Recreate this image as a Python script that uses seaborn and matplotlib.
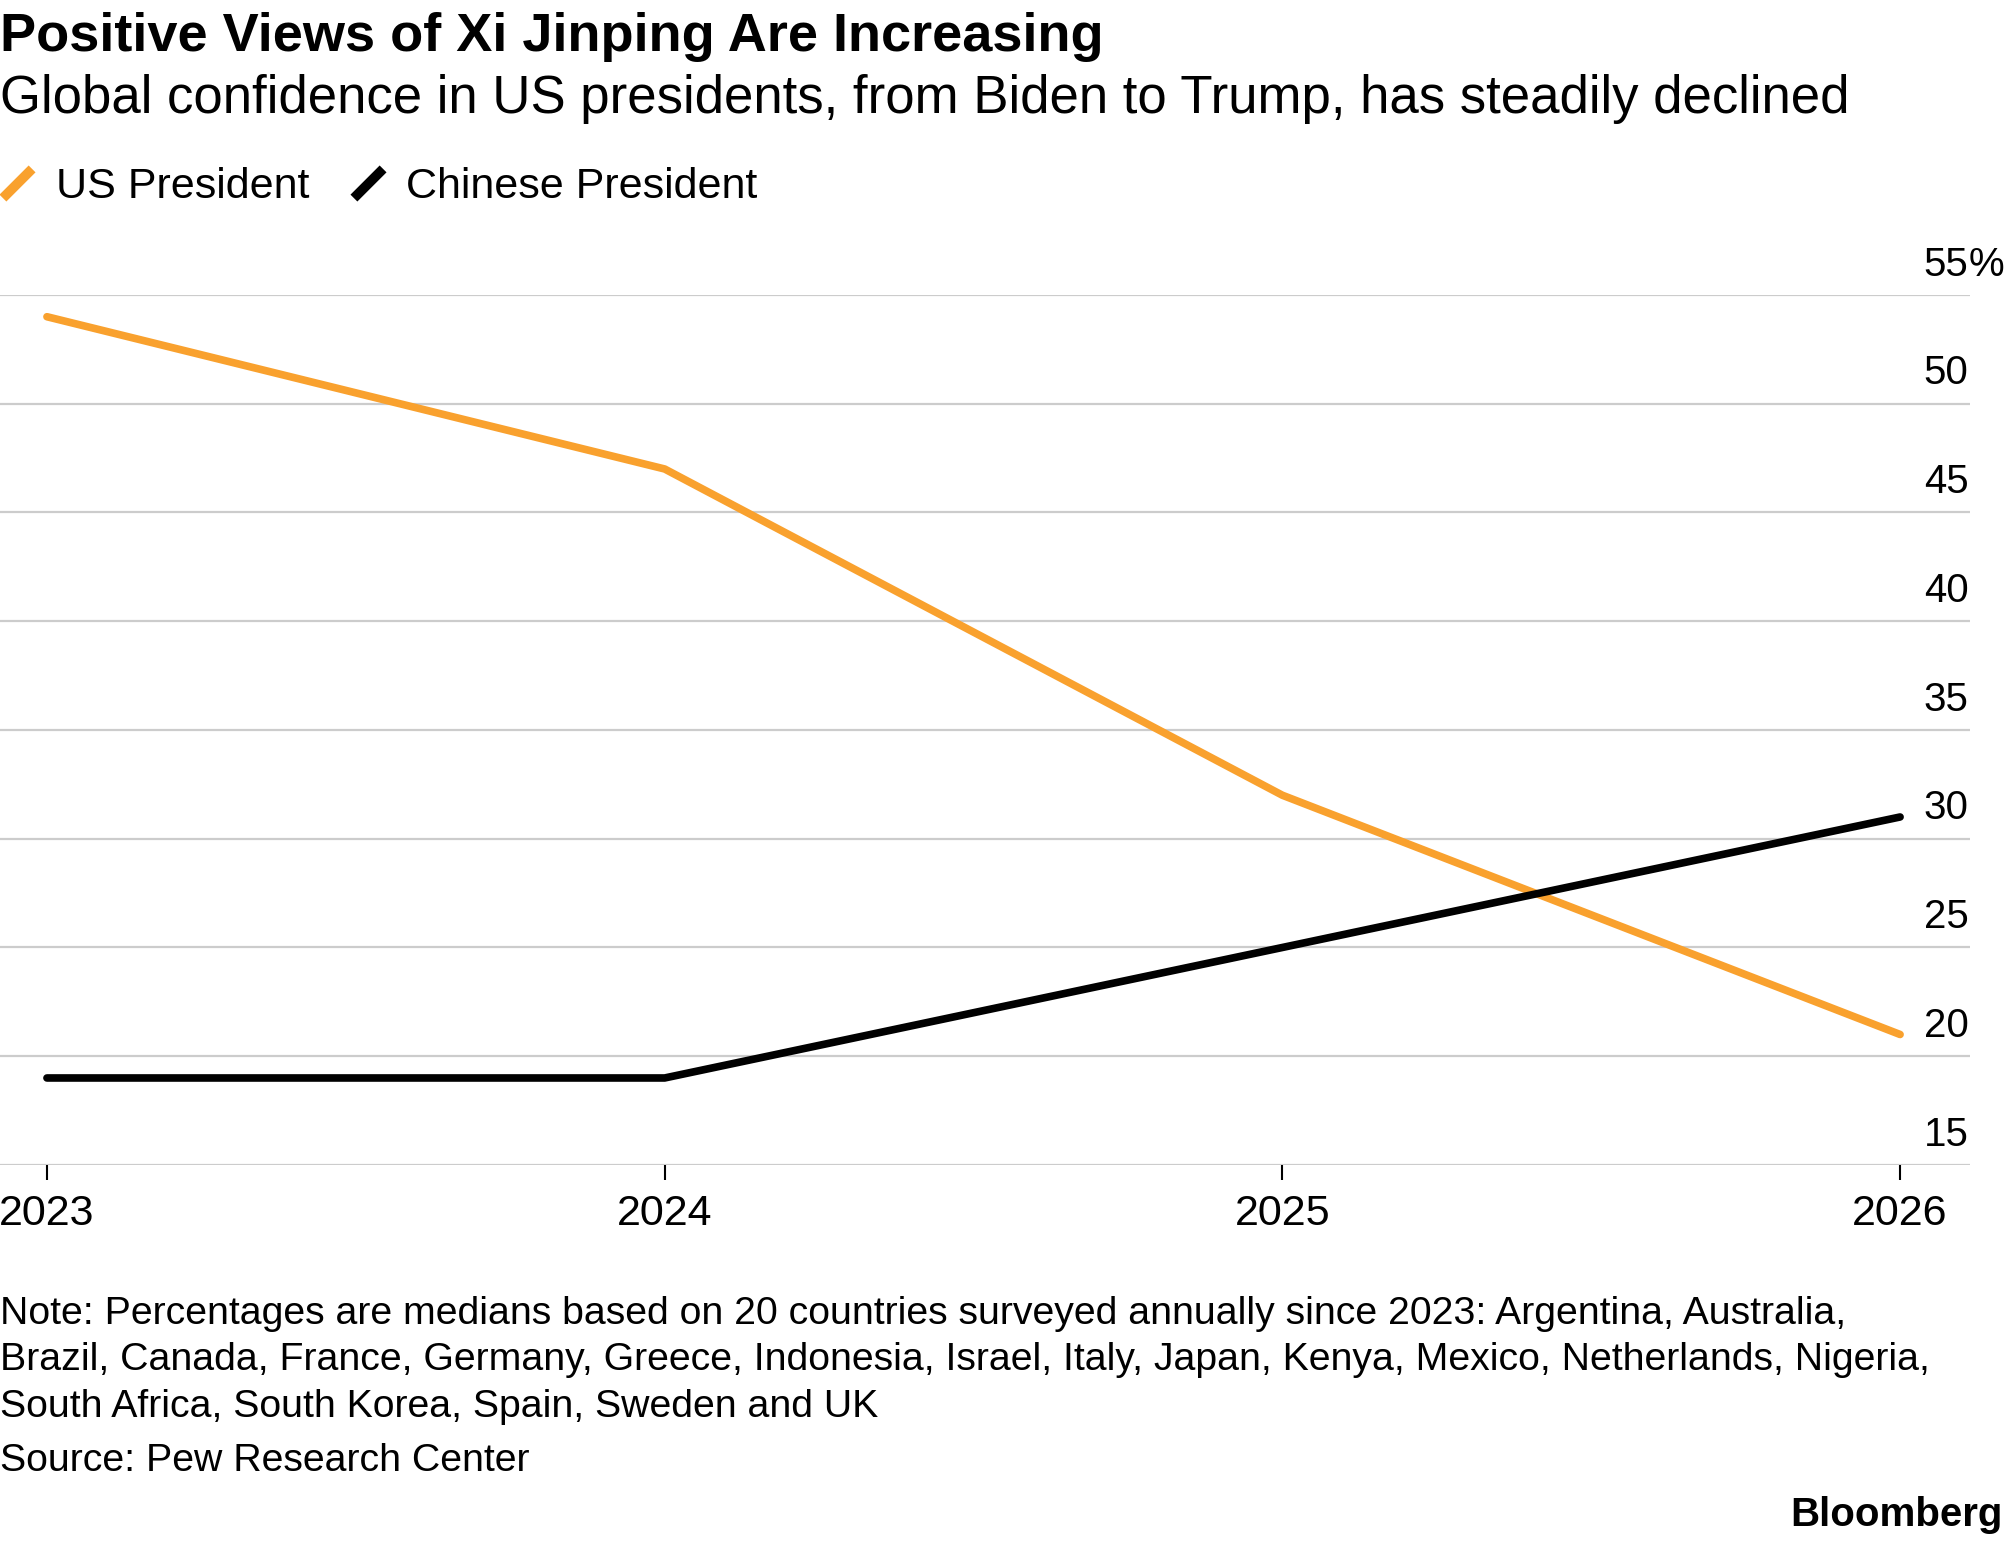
import pandas as pd
import matplotlib
matplotlib.use("Agg")
import matplotlib.pyplot as plt
import matplotlib.transforms as mtransforms
from matplotlib.lines import Line2D
from matplotlib.path import Path
import seaborn as sns

# Data
years = [2023, 2024, 2025, 2026]
us_president = [54, 47, 32, 21]
chinese_president = [19, 19, 25, 31]
series_names = ["US President", "Chinese President"]
y_ticks = [15, 20, 25, 30, 35, 40, 45, 50, 55]

df = pd.DataFrame({
    "year": years * 2,
    "value": us_president + chinese_president,
    "series": [series_names[0]] * len(years) + [series_names[1]] * len(years),
})

colors = {"US President": "#F9A12E", "Chinese President": "#000000"}

sns.set_theme(style="white")
plt.rcParams["font.family"] = ["Liberation Sans", "DejaVu Sans"]
plt.rcParams["text.color"] = "black"

fig = plt.figure(figsize=(20.06, 15.42), dpi=100)
ax = fig.add_axes([0, 0.2445, 0.982, 0.5642])

sns.lineplot(data=df, x="year", y="value", hue="series", palette=colors,
             linewidth=5.5, legend=False, ax=ax, solid_capstyle="round")

ax.set_xlim(2022.924, 2026.113)
ax.set_ylim(15, 55)
ax.set_xticks(years)
ax.set_xticklabels([str(y) for y in years])
ax.set_yticks(y_ticks)
ax.set_xlabel("")
ax.set_ylabel("")
for s in ax.spines.values():
    s.set_visible(False)
ax.grid(axis="y", color="#cccccc", linewidth=1.6)
ax.grid(axis="x", visible=False)
ax.tick_params(axis="y", length=0, labelleft=False, labelright=False)
ax.tick_params(axis="x", bottom=True, length=11, width=1.5, color="black",
               direction="out", pad=10, labelsize=31, labelcolor="black")

# y labels sitting above the gridlines at the right edge
ytrans = mtransforms.offset_copy(ax.get_yaxis_transform(), fig=fig, x=-1, y=14, units="points")
for v in y_ticks:
    ax.text(1, v, str(v), transform=ytrans, ha="right", va="baseline",
            fontsize=29, color="black", clip_on=False)
ax.text(1, y_ticks[-1], "%", transform=ytrans, ha="left", va="baseline",
        fontsize=29, color="black", clip_on=False)

# Titles
fig.text(0.0, 0.967, "Positive Views of Xi Jinping Are Increasing",
         fontsize=39, fontweight="bold", va="baseline", ha="left", color="black")
fig.text(0.0, 0.9267, "Global confidence in US presidents, from Biden to Trump, has steadily declined",
         fontsize=38, va="baseline", ha="left", color="black")

# Legend with slash markers
slash = Path([(-1, -1), (1, 1)])
handles = [Line2D([0], [0], color=colors[n], linestyle="None", marker=slash,
                  markersize=21, markeredgewidth=7, markeredgecolor=colors[n])
           for n in series_names]
leg = fig.legend(handles=handles, labels=series_names, loc="center left",
                 bbox_to_anchor=(0.0, 0.8787), ncol=2, frameon=False,
                 fontsize=31, handlelength=0.8, handletextpad=0.5,
                 columnspacing=0.95, borderpad=0, borderaxespad=0)
for t in leg.get_texts():
    t.set_color("black")

# Footer
note_lines = [
    "Note: Percentages are medians based on 20 countries surveyed annually since 2023: Argentina, Australia,",
    "Brazil, Canada, France, Germany, Greece, Indonesia, Israel, Italy, Japan, Kenya, Mexico, Netherlands, Nigeria,",
    "South Africa, South Korea, Spain, Sweden and UK",
]
note_baselines = [1324, 1370, 1417]
for line, yb in zip(note_lines, note_baselines):
    fig.text(0.0, 1 - yb / 1542, line, fontsize=28.3, va="baseline", ha="left", color="black")
fig.text(0.0, 1 - 1471 / 1542, "Source: Pew Research Center", fontsize=28.3,
         va="baseline", ha="left", color="black")
fig.text(0.9985, 1 - 1526 / 1542, "Bloomberg", fontsize=29, fontweight="bold",
         va="baseline", ha="right", color="black")

fig.savefig("out.png", dpi=100, facecolor="white")
